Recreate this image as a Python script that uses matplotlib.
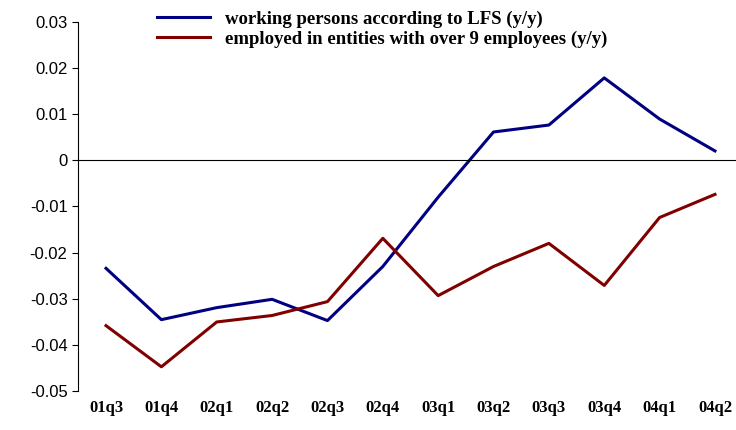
import matplotlib
matplotlib.use("Agg")
import matplotlib.pyplot as plt

quarters = ["01q3", "01q4", "02q1", "02q2", "02q3", "02q4",
            "03q1", "03q2", "03q3", "03q4", "04q1", "04q2"]
lfs = [-0.0234, -0.0345, -0.0319, -0.0301, -0.0347, -0.0230,
       -0.0080, 0.0061, 0.0076, 0.0178, 0.0089, 0.0020]
entities = [-0.0358, -0.0447, -0.0350, -0.0336, -0.0306, -0.0169,
            -0.0293, -0.0230, -0.0180, -0.0271, -0.0124, -0.0074]

fig = plt.figure(figsize=(7.36, 4.30), dpi=100)
ax = fig.add_axes([0.106, 0.09, 0.894, 0.86])
x = range(len(quarters))
ax.plot(x, lfs, color="#000080", lw=2.2, label="working persons according to LFS (y/y)")
ax.plot(x, entities, color="#800000", lw=2.2, label="employed in entities with over 9 employees (y/y)")

ax.set_xlim(-0.506, 11.38)
ax.set_ylim(-0.05, 0.03)
ax.set_yticks([0.03, 0.02, 0.01, 0, -0.01, -0.02, -0.03, -0.04, -0.05])
ax.set_yticklabels(["0.03", "0.02", "0.01", "0", "-0.01", "-0.02", "-0.03", "-0.04", "-0.05"],
                   family="Liberation Sans", fontsize=12)
ax.tick_params(axis="y", length=4, direction="out")
ax.spines["top"].set_visible(False)
ax.spines["right"].set_visible(False)
ax.spines["bottom"].set_position(("data", 0))
ax.set_xticks([])

# quarter labels along the bottom of the plot area
sec = ax.secondary_xaxis("bottom")
sec.set_frame_on(False)
sec.set_xticks(list(x))
sec.set_xticklabels(quarters, family="Liberation Serif", fontweight="bold", fontsize=12)
sec.tick_params(length=0, pad=6)

ax.legend(loc="upper left", bbox_to_anchor=(0.095, 1.075), frameon=False,
          prop={"family": "Liberation Serif", "weight": "bold", "size": 13.5},
          handlelength=2.8, labelspacing=0.15)
fig.savefig("out.png", dpi=100)
